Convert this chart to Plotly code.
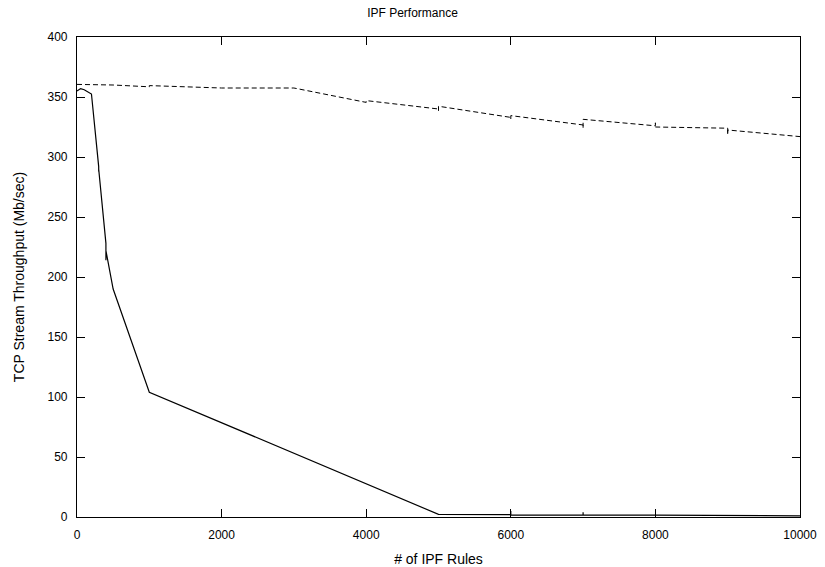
import plotly.graph_objects as go

# Dashed series (repeated x = several samples at the same rule count)
dash_x = [0, 500, 1000, 1000, 2000, 3000, 4000, 4000, 5000, 5000, 5000,
          6000, 6000, 6000, 7000, 7000, 7000, 8000, 8000, 8000,
          9000, 9000, 9000, 10000]
dash_y = [360.5, 360, 358.5, 359.5, 357.5, 357.5, 345.5, 347, 340, 338.5, 342.3,
          333, 331.5, 334.5, 326.7, 324, 331.4, 326, 328.5, 325,
          324, 318.5, 322.5, 317]

# Solid series
sol_x = [0, 50, 100, 200, 300, 300, 300, 400, 400, 400, 500, 1000, 5000,
         6000, 6000, 6000, 7000, 7000, 7000, 8000, 9000, 10000]
sol_y = [355, 357, 356, 352.5, 292, 288, 290, 228, 214, 222, 190, 104, 2.2,
         2, 5, 1.5, 1.5, 4, 1.5, 1.5, 1.2, 1]

x_ticks = [0, 2000, 4000, 6000, 8000, 10000]
x_labels = ["0", "2000", "4000", "6000", "8000", "10000"]
y_ticks = [0, 50, 100, 150, 200, 250, 300, 350, 400]

font = dict(family="Liberation Sans, Arial, sans-serif", size=12, color="black")

fig = go.Figure()
fig.add_trace(go.Scatter(x=dash_x, y=dash_y, mode="lines",
                         line=dict(color="black", width=1, dash="5px,3px"),
                         showlegend=False))
fig.add_trace(go.Scatter(x=sol_x, y=sol_y, mode="lines",
                         line=dict(color="black", width=1.2),
                         showlegend=False))

fig.update_layout(
    width=825, height=567,
    margin=dict(l=77, r=25, t=37, b=50, autoexpand=False),
    paper_bgcolor="white", plot_bgcolor="white",
    font=font,
    title=dict(text="IPF Performance", x=0.5, xanchor="center",
               y=0.984, yanchor="top", font=dict(size=12)),
    xaxis=dict(range=[0, 10000], tickvals=x_ticks, ticktext=x_labels,
               ticks="inside", ticklen=8,
               tickcolor="black", showline=True, linecolor="black", linewidth=1.2,
               mirror="ticks", showgrid=False, zeroline=False, automargin=False,
               title=dict(text="# of IPF Rules", standoff=13),
               ticklabelstandoff=6),
    yaxis=dict(range=[0, 400], tickvals=y_ticks, ticks="inside", ticklen=8,
               tickcolor="black", showline=True, linecolor="black", linewidth=1.2,
               mirror="ticks", showgrid=False, zeroline=False, automargin=False,
               title=dict(text="TCP Stream Throughput (Mb/sec)", standoff=19),
               ticklabelstandoff=6),
)

fig.write_html("out.html", config={"displayModeBar": False},
               post_script="document.body.style.margin='0';document.body.style.overflow='hidden';")
